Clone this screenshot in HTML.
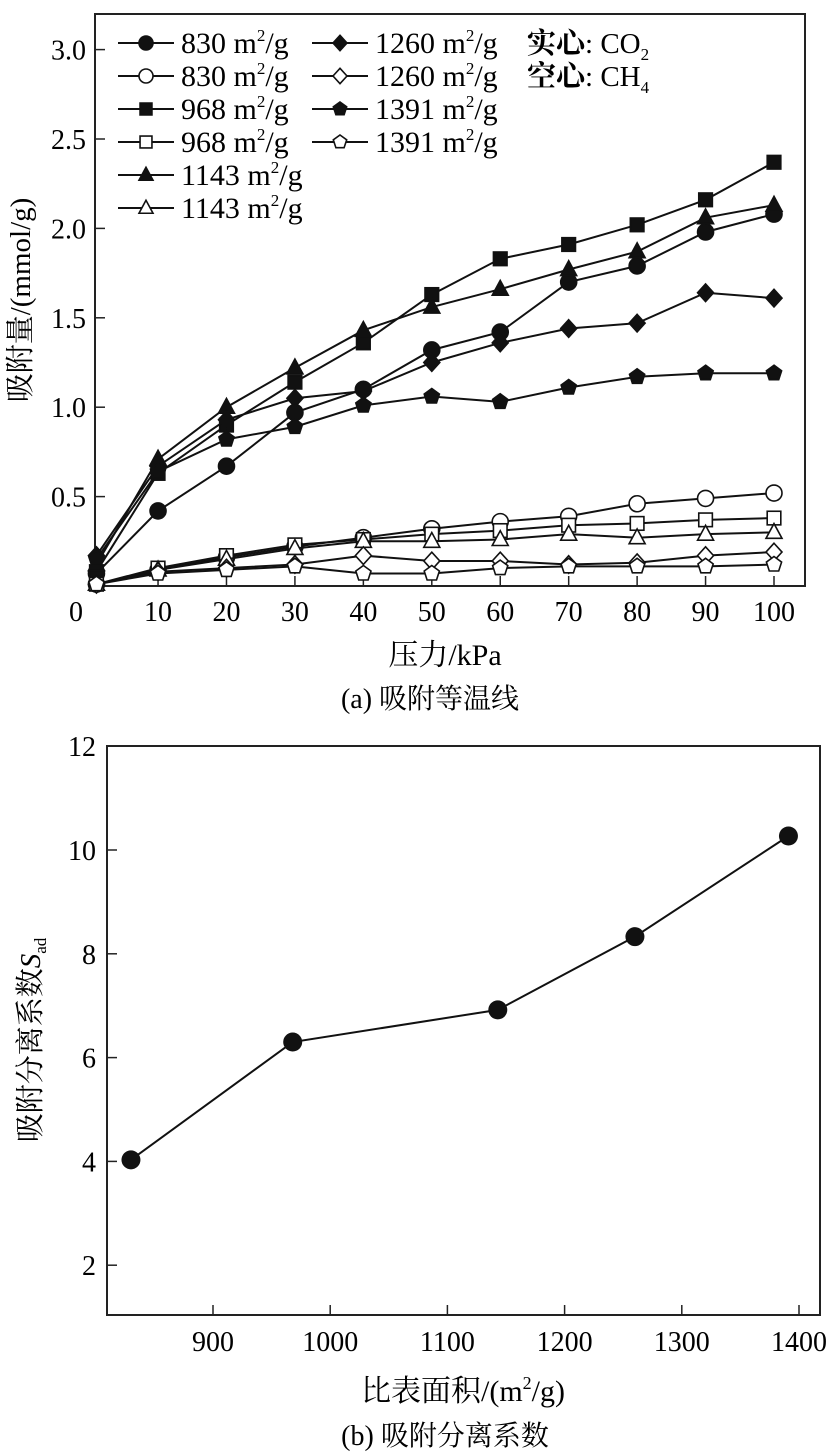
<!DOCTYPE html>
<html><head><meta charset="utf-8"><style>
html,body{margin:0;padding:0;background:#fff;}
svg{display:block;font-family:"Liberation Serif","Noto Serif CJK SC","Noto Sans CJK SC",serif;}
</style></head><body>
<svg id="s" width="835" height="1456" viewBox="0 0 835 1456">
<g id="topchart"></g>
<g id="botchart"></g>
</svg>
<script>
const pressures=[1,10,20,30,40,50,60,70,80,90,100];
const co2_830=[0.07,0.42,0.67,0.97,1.10,1.32,1.42,1.70,1.79,1.98,2.08];
const co2_968=[0.08,0.63,0.90,1.14,1.36,1.63,1.83,1.91,2.02,2.16,2.37];
const co2_1143=[0.12,0.71,1.00,1.22,1.43,1.56,1.66,1.77,1.87,2.06,2.13];
const co2_1260=[0.17,0.67,0.93,1.05,1.09,1.25,1.36,1.44,1.47,1.64,1.61];
const co2_1391=[0.15,0.64,0.82,0.89,1.01,1.06,1.03,1.11,1.17,1.19,1.19];
const ch4_830=[0.01,0.09,0.16,0.22,0.27,0.32,0.36,0.39,0.46,0.49,0.52];
const ch4_968=[0.01,0.10,0.17,0.23,0.26,0.29,0.31,0.34,0.35,0.37,0.38];
const ch4_1143=[0.01,0.09,0.15,0.21,0.25,0.25,0.26,0.29,0.27,0.29,0.30];
const ch4_1260=[0.01,0.08,0.10,0.12,0.17,0.14,0.14,0.12,0.13,0.17,0.19];
const ch4_1391=[0.01,0.07,0.09,0.11,0.07,0.07,0.10,0.11,0.11,0.11,0.12];
const xTicks=[10,20,30,40,50,60,70,80,90,100];
const yTicks=[0.5,1.0,1.5,2.0,2.5,3.0];
const areas=[830,968,1143,1260,1391];
const selectivity=[4.03,6.30,6.92,8.33,10.27];
const bxTicks=[900,1000,1100,1200,1300,1400];
const byTicks=[2,4,6,8,10,12];

const NS='http://www.w3.org/2000/svg';
function mk(p,tag,at,txt){const e=document.createElementNS(NS,tag);for(const k in at)e.setAttribute(k,at[k]);if(txt!==undefined)e.textContent=txt;p.appendChild(e);return e;}
const topG=document.getElementById('topchart'), botG=document.getElementById('botchart');

// ---- top chart
const X=p=>89.6+p*6.844, Y=v=>586-v*178.8;
let e=mk(topG,'rect',{x:95,y:14,width:710,height:572,fill:'none',stroke:'#222','stroke-width':2});

xTicks.forEach(t=>{let l=mk(topG,'line',{x1:X(t),x2:X(t),y1:586,y2:576,stroke:'#222','stroke-width':1.5});

let tx=mk(topG,'text',{x:X(t),y:621,'font-size':28,'text-anchor':'middle'},String(t));
});
e=mk(topG,'text',{x:76,y:621,'font-size':28,'text-anchor':'middle'},'0');

yTicks.forEach(t=>{let l=mk(topG,'line',{x1:95,x2:105,y1:Y(t),y2:Y(t),stroke:'#222','stroke-width':1.5});

let tx=mk(topG,'text',{x:86,y:Y(t)+10,'font-size':28,'text-anchor':'end'},t.toFixed(1));
});
e=mk(topG,'text',{x:445,y:665,'font-size':30,'text-anchor':'middle'},'压力/kPa');

e=mk(topG,'text',{x:0,y:0,'font-size':29,'text-anchor':'middle',transform:'translate(30,300) rotate(-90)'},'吸附量/(mmol/g)');

e=mk(topG,'text',{x:430,y:708,'font-size':28,'text-anchor':'middle'},'(a) 吸附等温线');


function marker(p,shape,cx,cy,filled,r){
  r=r||8;const f=filled?'#111':'#fff';const at={fill:f,stroke:'#111','stroke-width':1.6};let m;
  if(shape==='circle'){m=mk(p,'circle',Object.assign({cx:cx,cy:cy,r:r},at));}
  else if(shape==='square'){m=mk(p,'rect',Object.assign({x:cx-r*0.85,y:cy-r*0.85,width:r*1.7,height:r*1.7},at));}
  else if(shape==='triangle'){m=mk(p,'polygon',Object.assign({points:`${cx},${cy-r*1.1} ${cx-r},${cy+r*0.75} ${cx+r},${cy+r*0.75}`},at));}
  else if(shape==='diamond'){m=mk(p,'polygon',Object.assign({points:`${cx},${cy-r*1.1} ${cx+r},${cy} ${cx},${cy+r*1.1} ${cx-r},${cy}`},at));}
  else {let pts=[];for(let i=0;i<5;i++){const a=-Math.PI/2+i*2*Math.PI/5;pts.push((cx+r*Math.cos(a)).toFixed(1)+','+(cy+r*Math.sin(a)).toFixed(1));}
    m=mk(p,'polygon',Object.assign({points:pts.join(' ')},at));}
  return m;
}
const series=[
 ['co2-830',co2_830,'circle',true],['co2-968',co2_968,'square',true],['co2-1143',co2_1143,'triangle',true],
 ['co2-1260',co2_1260,'diamond',true],['co2-1391',co2_1391,'pentagon',true],
 ['ch4-830',ch4_830,'circle',false],['ch4-968',ch4_968,'square',false],['ch4-1143',ch4_1143,'triangle',false],
 ['ch4-1260',ch4_1260,'diamond',false],['ch4-1391',ch4_1391,'pentagon',false]];
series.forEach(s=>{
  const g=mk(topG,'g',{});
  
  
  const pl=mk(g,'polyline',{points:pressures.map((p,i)=>X(p)+','+Y(s[1][i])).join(' '),fill:'none',stroke:'#111','stroke-width':2});
  
  
  pressures.forEach((p,i)=>{const m=marker(g,s[2],X(p),Y(s[1][i]),s[3]);
    
    });
});
// legend
const leg=mk(topG,'g',{});


const legItems=[[0,0,'circle',true,'830'],[0,1,'circle',false,'830'],[0,2,'square',true,'968'],[0,3,'square',false,'968'],
 [0,4,'triangle',true,'1143'],[0,5,'triangle',false,'1143'],[1,0,'diamond',true,'1260'],[1,1,'diamond',false,'1260'],
 [1,2,'pentagon',true,'1391'],[1,3,'pentagon',false,'1391']];
legItems.forEach(it=>{
  const x0=it[0]?312:118, y=53+it[1]*33;
  const g=mk(leg,'g',{});
  
  
  mk(g,'line',{x1:x0,x2:x0+56,y1:y-10,y2:y-10,stroke:'#111','stroke-width':2});
  marker(g,it[2],x0+28,y-10,it[3],7);
  const t=mk(g,'text',{x:x0+63,y:y,'font-size':30});
  t.innerHTML=it[4]+' m<tspan font-size="17" dy="-12">2</tspan><tspan dy="12">/g</tspan>';
});
e=mk(leg,'text',{x:527,y:53,'font-size':29});
e.innerHTML='<tspan font-weight="bold">实心</tspan>: CO<tspan font-size="17" dy="7">2</tspan>';

e=mk(leg,'text',{x:527,y:86,'font-size':29});
e.innerHTML='<tspan font-weight="bold">空心</tspan>: CH<tspan font-size="17" dy="7">4</tspan>';


// ---- bottom chart
const BX=a=>213+(a-900)*1.172, BY=v=>1369-v*51.9;
e=mk(botG,'rect',{x:107,y:746,width:713,height:569,fill:'none',stroke:'#222','stroke-width':2});

bxTicks.forEach(t=>{let l=mk(botG,'line',{x1:BX(t),x2:BX(t),y1:1315,y2:1305,stroke:'#222','stroke-width':1.5});

let tx=mk(botG,'text',{x:BX(t),y:1351,'font-size':28,'text-anchor':'middle'},String(t));
});
byTicks.forEach(t=>{let l=mk(botG,'line',{x1:107,x2:117,y1:BY(t),y2:BY(t),stroke:'#222','stroke-width':1.5});

let tx=mk(botG,'text',{x:96,y:BY(t)+10,'font-size':28,'text-anchor':'end'},String(t));
});
const g2=mk(botG,'g',{});


e=mk(g2,'polyline',{points:areas.map((a,i)=>BX(a)+','+BY(selectivity[i])).join(' '),fill:'none',stroke:'#111','stroke-width':2});

areas.forEach((a,i)=>{const c=mk(g2,'circle',{cx:BX(a),cy:BY(selectivity[i]),r:9.5,fill:'#111'});

});
e=mk(botG,'text',{x:463,y:1401,'font-size':30,'text-anchor':'middle'});
e.innerHTML='比表面积/(m<tspan font-size="18" dy="-12">2</tspan><tspan dy="12">/g)</tspan>';

e=mk(botG,'text',{x:0,y:0,'font-size':29,'text-anchor':'middle',transform:'translate(40,1040) rotate(-90)'});
e.innerHTML='吸附分离系数<tspan font-style="italic">S</tspan><tspan font-size="17" dy="6">ad</tspan>';

e=mk(botG,'text',{x:445,y:1445,'font-size':28,'text-anchor':'middle'},'(b) 吸附分离系数');

</script>
</body></html>
